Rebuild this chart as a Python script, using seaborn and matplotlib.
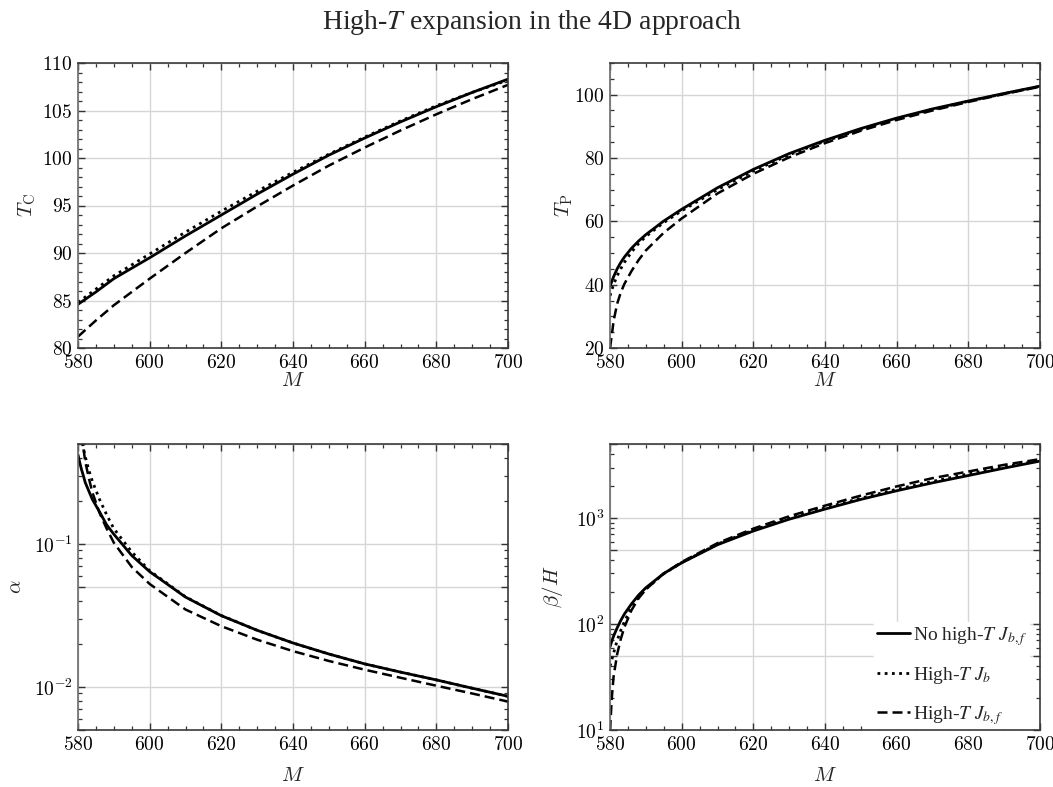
import numpy as np
import pandas as pd
import matplotlib
matplotlib.use("Agg")
import matplotlib.pyplot as plt
import matplotlib.ticker as mticker
import seaborn as sns

# ---- data -------------------------------------------------------------
# Critical temperature T_C
m_tc = [580, 585, 590, 600, 610, 620, 630, 640, 650, 660, 670, 680, 690, 700]
tc_full = [84.6, 85.9, 87.3, 89.5, 91.8, 94.0, 96.2, 98.3, 100.3, 102.1, 103.8, 105.4, 106.9, 108.3]
tc_jb = [84.8, 86.2, 87.6, 89.9, 92.2, 94.4, 96.5, 98.5, 100.4, 102.2, 103.9, 105.5, 106.9, 108.2]
tc_jbf = [81.2, 82.9, 84.5, 87.3, 90.0, 92.6, 94.9, 97.1, 99.2, 101.1, 102.9, 104.6, 106.2, 107.7]

# Percolation temperature T_P
m_tp = [580, 580.5, 581, 582, 583, 584, 586, 588, 590, 595, 600, 610, 620, 630, 640, 650, 660, 670, 680, 690, 700]
tp_full = [39.5, 41.0, 42.5, 45.0, 47.0, 48.7, 51.5, 53.8, 55.8, 60.1, 63.8, 70.6, 76.4, 81.4, 85.6, 89.3, 92.6, 95.5, 98.0, 100.4, 102.7]
tp_jb = [36.5, 38.3, 40.0, 42.8, 45.0, 47.0, 50.3, 53.0, 55.2, 59.6, 63.3, 70.0, 75.9, 81.0, 85.3, 89.0, 92.4, 95.3, 97.9, 100.3, 102.6]
tp_jbf = [20.0, 24.0, 28.5, 34.0, 37.5, 40.2, 44.3, 47.8, 50.8, 56.4, 60.9, 68.8, 75.0, 80.2, 84.7, 88.6, 92.0, 95.0, 97.7, 100.2, 102.5]

# Transition strength alpha
m_al = [580, 580.5, 581, 581.5, 582, 583, 584, 586, 588, 590, 595, 600, 610, 620, 630, 640, 650, 660, 670, 680, 690, 700]
al_full = [0.42, 0.37, 0.33, 0.30, 0.27, 0.235, 0.205, 0.168, 0.136, 0.117, 0.083, 0.064, 0.0425, 0.0315, 0.0249, 0.0203, 0.0170, 0.0145, 0.0127, 0.0112, 0.0098, 0.0086]
al_jb = [0.90, 0.70, 0.55, 0.47, 0.41, 0.33, 0.275, 0.205, 0.160, 0.128, 0.088, 0.065, 0.0427, 0.0316, 0.0249, 0.0203, 0.0170, 0.0145, 0.0127, 0.0112, 0.0098, 0.0086]
al_jbf = [1.20, 0.85, 0.62, 0.47, 0.38, 0.29, 0.23, 0.165, 0.128, 0.102, 0.069, 0.0525, 0.0348, 0.0266, 0.0214, 0.0178, 0.0152, 0.0132, 0.0116, 0.0102, 0.0090, 0.0079]

# Inverse duration beta/H
m_bh = [580, 580.5, 581, 582, 583, 584, 586, 588, 590, 595, 600, 610, 620, 630, 640, 650, 660, 670, 680, 690, 700]
bh_full = [61, 69, 77, 92, 108, 124, 155, 188, 220, 300, 378, 560, 755, 975, 1215, 1500, 1810, 2150, 2520, 2960, 3450]
bh_jb = [40, 46, 53, 70, 87, 105, 145, 180, 214, 298, 380, 568, 770, 995, 1250, 1540, 1870, 2220, 2610, 3040, 3500]
bh_jbf = [10, 20, 32, 52, 72, 93, 135, 175, 212, 300, 385, 580, 795, 1040, 1310, 1630, 1990, 2380, 2750, 3180, 3600]

series_labels = [r"No high-$T$ $J_{b,f}$", r"High-$T$ $J_b$", r"High-$T$ $J_{b,f}$"]
x_ticks = [580, 600, 620, 640, 660, 680, 700]

# ---- style ------------------------------------------------------------
sns.set_theme(style="ticks")
plt.rcParams["font.family"] = ["cmr10", "DejaVu Serif"]
plt.rcParams["mathtext.fontset"] = "cm"
plt.rcParams["axes.formatter.use_mathtext"] = True
plt.rcParams["axes.unicode_minus"] = False

styles = [
    dict(linestyle="-", linewidth=2.0),
    dict(linestyle=(0, (1.0, 1.6)), linewidth=2.0),
    dict(linestyle=(0, (4.0, 2.0)), linewidth=1.8),
]

fig = plt.figure(figsize=(10.53, 7.87), dpi=100)
W, H = 1053.0, 787.0
def box(x0, y0, x1, y1):
    return [x0 / W, 1 - y1 / H, (x1 - x0) / W, (y1 - y0) / H]

ax_tc = fig.add_axes(box(78, 63, 508, 348))
ax_tp = fig.add_axes(box(610, 63, 1040, 348))
ax_al = fig.add_axes(box(78, 444, 508, 730))
ax_bh = fig.add_axes(box(610, 444, 1040, 730))

panels = [
    (ax_tc, m_tc, [tc_full, tc_jb, tc_jbf]),
    (ax_tp, m_tp, [tp_full, tp_jb, tp_jbf]),
    (ax_al, m_al, [al_full, al_jb, al_jbf]),
    (ax_bh, m_bh, [bh_full, bh_jb, bh_jbf]),
]

for ax, mx, ys in panels:
    for y, lab, st in zip(ys, series_labels, styles):
        df = pd.DataFrame({"M": mx, "v": y})
        sns.lineplot(data=df, x="M", y="v", ax=ax, color="black", estimator=None,
                     label=lab if ax is ax_bh else None, legend=False, **st)

def log_label(v, pos):
    e = int(np.round(np.log10(v)))
    if np.isclose(v, 10.0 ** e):
        return r"$10^{%d}$" % e
    return ""

for ax in [ax_tc, ax_tp, ax_al, ax_bh]:
    ax.set_xlim(580, 700)
    ax.set_xticks(x_ticks)
    ax.xaxis.set_minor_locator(mticker.MultipleLocator(5))
    ax.tick_params(which="both", direction="in", top=True, right=True,
                   labelsize=14, colors="#333333", labelcolor="black")
    ax.tick_params(which="major", length=5, width=1.0, pad=4)
    ax.tick_params(which="minor", length=3, width=0.9)
    for s in ax.spines.values():
        s.set_color("#3a3a3a")
        s.set_linewidth(1.2)
    ax.spines["left"].set_color("#6a6a6a")
    ax.grid(True, which="major", color="#d6d6d6", linewidth=1.0)
    ax.set_axisbelow(True)

ax_tc.set_ylim(80, 110)
ax_tc.yaxis.set_major_locator(mticker.MultipleLocator(5))
ax_tc.yaxis.set_minor_locator(mticker.MultipleLocator(1))

ax_tp.set_ylim(20, 110)
ax_tp.set_yticks([20, 40, 60, 80, 100])
ax_tp.yaxis.set_minor_locator(mticker.MultipleLocator(5))

for ax, lo, hi in [(ax_al, 0.005, 0.5), (ax_bh, 10, 5000)]:
    ax.set_yscale("log")
    ax.set_ylim(lo, hi)
    ax.yaxis.set_major_locator(mticker.LogLocator(base=10, subs=(1.0, 5.0)))
    ax.yaxis.set_major_formatter(mticker.FuncFormatter(log_label))
    ax.yaxis.set_minor_locator(mticker.LogLocator(base=10, subs=(2, 3, 4, 6, 7, 8, 9)))
    ax.yaxis.set_minor_formatter(mticker.NullFormatter())

ax_tc.set_ylabel(r"$T_{\rm C}$", fontsize=15, labelpad=3)
ax_tp.set_ylabel(r"$T_{\rm P}$", fontsize=15, labelpad=-1)
ax_al.set_ylabel(r"$\alpha$", fontsize=15, labelpad=6)
ax_bh.set_ylabel(r"$\beta/H$", fontsize=15, labelpad=8)
for ax in [ax_tc, ax_tp]:
    ax.set_xlabel(r"$M$", fontsize=15, labelpad=0)
for ax in [ax_al, ax_bh]:
    ax.set_xlabel(r"$M$", fontsize=15, labelpad=10)

leg = ax_bh.legend(loc="lower right", bbox_to_anchor=(0.975, 0.004), frameon=True,
                   prop={"family": "Liberation Serif", "size": 14, "math_fontfamily": "stix"},
                   handlelength=1.7, handletextpad=0.15, labelspacing=0.9,
                   borderpad=0.12, borderaxespad=0.0, fancybox=False)
leg.get_frame().set_facecolor("white")
leg.get_frame().set_edgecolor("white")
leg.get_frame().set_alpha(1.0)
# keep the legend box above the curves and grid but under the frame and ticks
leg.set_zorder(2.3)

fig.text(0.505, 0.972, r"High-$T$ expansion in the 4D approach", ha="center", va="center",
         fontsize=20, family="Liberation Serif", math_fontfamily="stix")

fig.savefig("out.png", dpi=100)
